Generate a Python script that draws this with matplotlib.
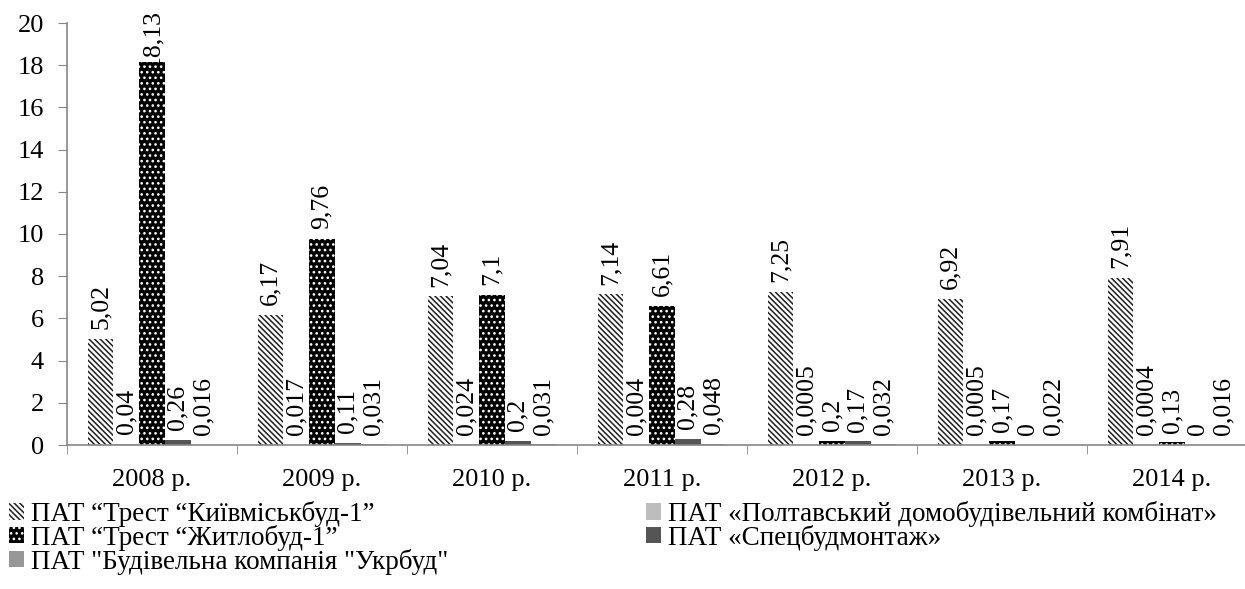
import matplotlib
matplotlib.use("Agg")
import matplotlib.pyplot as plt
import numpy as np
from matplotlib.patches import Patch

plt.rcParams["font.family"] = ["Liberation Serif", "DejaVu Serif"]
plt.rcParams["hatch.linewidth"] = 1.1

years = ["2008 р.", "2009 р.", "2010 р.", "2011 р.", "2012 р.", "2013 р.", "2014 р."]

kyivmiskbud = [5.02, 6.17, 7.04, 7.14, 7.25, 6.92, 7.91]
poltava = [0.04, 0.017, 0.024, 0.004, 0.0005, 0.0005, 0.0004]
zhytlobud = [18.13, 9.76, 7.1, 6.61, 0.2, 0.17, 0.13]
spetsbud = [0.26, 0.11, 0.2, 0.28, 0.17, 0, 0]
ukrbud = [0.016, 0.031, 0.031, 0.048, 0.032, 0.022, 0.016]

labels_kyiv = ["5,02", "6,17", "7,04", "7,14", "7,25", "6,92", "7,91"]
labels_polt = ["0,04", "0,017", "0,024", "0,004", "0,0005", "0,0005", "0,0004"]
labels_zhyt = ["18,13", "9,76", "7,1", "6,61", "0,2", "0,17", "0,13"]
labels_spets = ["0,26", "0,11", "0,2", "0,28", "0,17", "0", "0"]
labels_ukr = ["0,016", "0,031", "0,031", "0,048", "0,032", "0,022", "0,016"]

names = [
    "ПАТ “Трест “Київміськбуд-1”",
    "ПАТ «Полтавський домобудівельний комбінат»",
    "ПАТ “Трест “Житлобуд-1”",
    "ПАТ «Спецбудмонтаж»",
    "ПАТ \"Будівельна компанія \"Укрбуд\"",
]

W, H = 1245, 589
fig = plt.figure(figsize=(W / 100, H / 100), dpi=100)
ax = fig.add_axes([67 / W, (H - 445) / H, 1190 / W, 422 / H])

x = np.arange(len(years))
bw = 0.151
styles = [
    dict(facecolor="white", edgecolor="#202020", hatch="\\\\\\\\\\\\", linewidth=0),
    dict(facecolor="#bdbdbd", edgecolor="#bdbdbd", linewidth=0),
    dict(facecolor="black", edgecolor="white", hatch="...", linewidth=0),
    dict(facecolor="#555555", edgecolor="#555555", linewidth=0),
    dict(facecolor="#979797", edgecolor="#979797", linewidth=0),
]
series = [kyivmiskbud, poltava, zhytlobud, spetsbud, ukrbud]
texts = [labels_kyiv, labels_polt, labels_zhyt, labels_spets, labels_ukr]
ymax = 20

for i, (vals, labs, st) in enumerate(zip(series, texts, styles)):
    pos = x + (i - 2) * bw
    ax.bar(pos, vals, bw, **st)
    for px_, v, lab in zip(pos, vals, labs):
        if v > ymax - 3:
            # label does not fit above the bar: push it down from the top
            ax.annotate(lab, (px_, ymax), xytext=(0, 10), textcoords="offset points",
                        rotation=90, ha="center", va="top", fontsize=18.5,
                        annotation_clip=False, zorder=0.5)
        else:
            ax.annotate(lab, (px_, v), xytext=(0, 7), textcoords="offset points",
                        rotation=90, ha="center", va="bottom", fontsize=18.5,
                        annotation_clip=False, zorder=0.5)

ax.set_xlim(-0.5, len(years) - 0.5)
ax.set_ylim(0, ymax)
ax.set_yticks(np.arange(0, 21, 2))
ax.set_xticks(x)
ax.set_xticklabels(years)
ax.set_xticks(np.arange(-0.5, len(years), 1), minor=True)
ax.tick_params(axis="x", which="major", length=0, pad=17, labelsize=19)
ax.tick_params(axis="x", which="minor", length=6.5, color="#868686", direction="out")
ax.tick_params(axis="y", length=6.5, color="#868686", labelsize=19, pad=10)
for s in ["top", "right"]:
    ax.spines[s].set_visible(False)
for s in ["left", "bottom"]:
    ax.spines[s].set_color("#868686")
    ax.spines[s].set_linewidth(1.2)

handles = [Patch(label=n, **st) for n, st in zip(names, styles)]
legend_kw = dict(loc="upper left", frameon=False, fontsize=19.5, handlelength=0.55,
                 handleheight=0.55, handletextpad=0.25, labelspacing=-0.08,
                 borderpad=0, borderaxespad=0)
fig.legend([handles[0], handles[2], handles[4]], [names[0], names[2], names[4]],
           bbox_to_anchor=(9 / W, (H - 501) / H), **legend_kw)
fig.legend([handles[1], handles[3]], [names[1], names[3]],
           bbox_to_anchor=(646 / W, (H - 501) / H), **legend_kw)

fig.savefig("out.png", dpi=100)
